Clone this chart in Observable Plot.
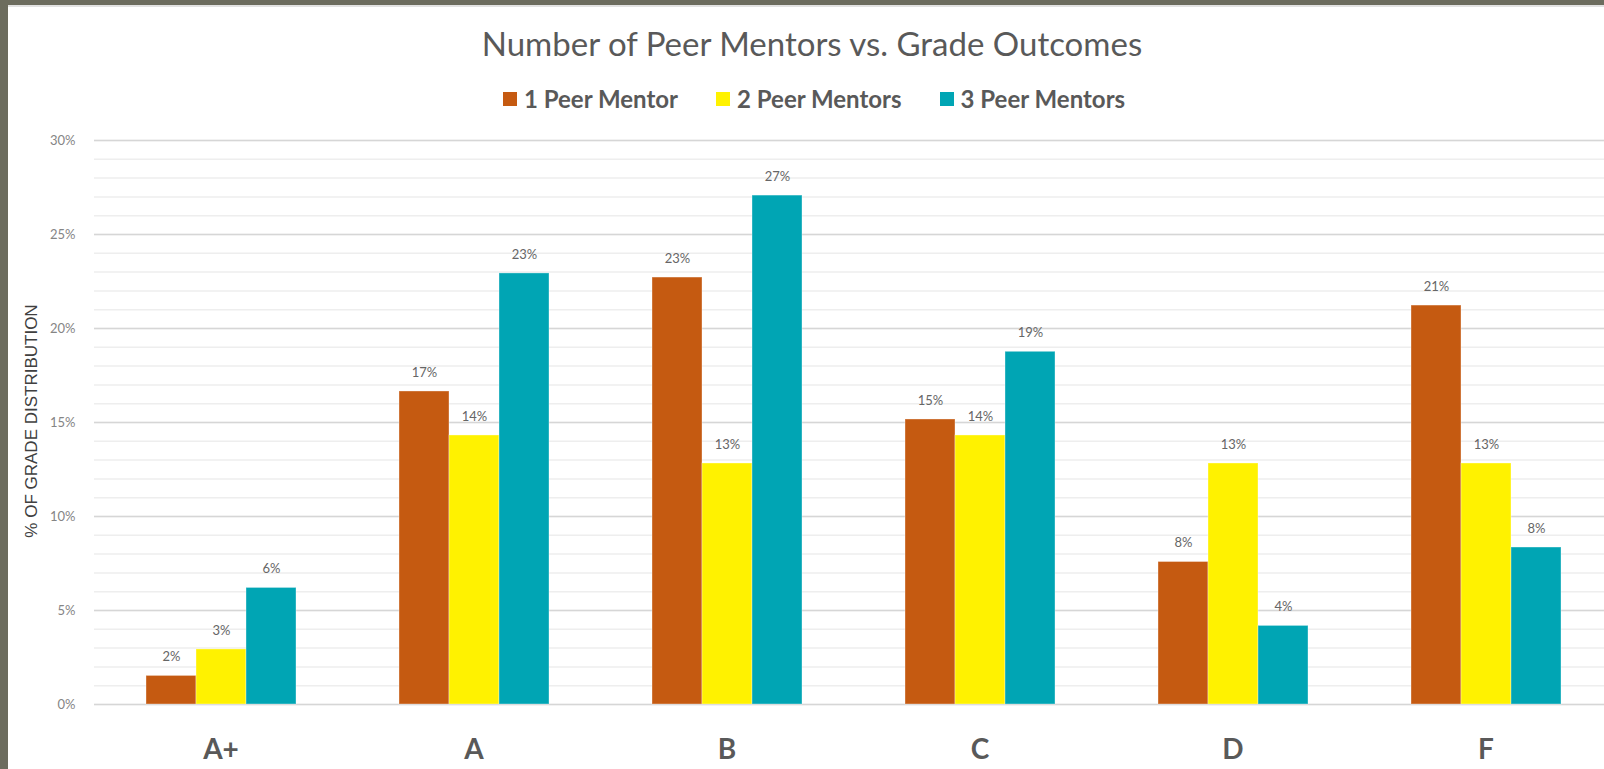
<!DOCTYPE html>
<html>
<head>
<meta charset="utf-8">
<script src="https://cdn.jsdelivr.net/npm/d3@7"></script>
<script src="https://cdn.jsdelivr.net/npm/@observablehq/plot@0.6"></script>
<style>
  html, body { margin: 0; padding: 0; background: #ffffff; overflow: hidden; }
  #wrap { position: relative; width: 1604px; height: 769px; overflow: hidden; background: #fff; }
  #header { position: relative; width: 1604px; height: 121px; }
  #title { position: absolute; left: 0; top: 27px; width: 1624px; text-align: center;
           font-family: Lato, "Open Sans", sans-serif; font-size: 33px; line-height: 33px; color: #595959; white-space: nowrap; }
  #legend { position: absolute; left: 503px; top: 87px; display: flex; align-items: center;
            font-family: Lato, "Open Sans", sans-serif; font-weight: bold; font-size: 24px; line-height: 24px; color: #595959; white-space: nowrap; }
  .item { display: flex; align-items: center; margin-right: 38px; }
  .sw { width: 14px; height: 14px; margin-right: 7px; }
  #ylabel { position: absolute; left: 32px; top: 421px; transform: translate(-50%, -50%) rotate(-90deg);
            font-family: "Liberation Sans", Arial, sans-serif; font-size: 17px; color: #404040; white-space: nowrap; }
  #bl { position: absolute; left: 0; top: 0; width: 8px; height: 769px; background: #6c6c5e; }
  #bt { position: absolute; left: 0; top: 0; width: 1604px; height: 5px; background: #6c6c5e; border-bottom: 2px solid #e2e2e2; }
  #plot svg { display: block; }
</style>
</head>
<body>
<div id="wrap">
  <div id="header">
    <div id="title"></div>
    <div id="legend"></div>
  </div>
  <div id="plot"></div>
  <div id="ylabel"></div>
  <div id="bt"></div>
  <div id="bl"></div>
</div>
<script>
const titleText = "Number of Peer Mentors vs. Grade Outcomes";
const yAxisTitle = "% OF GRADE DISTRIBUTION";
const grades = ["A+", "A", "B", "C", "D", "F"];
const seriesNames = ["1 Peer Mentor", "2 Peer Mentors", "3 Peer Mentors"];
const seriesColors = ["#C55A11", "#FFF200", "#00A5B4"];
const onePeerMentor = [1.52, 16.65, 22.71, 15.16, 7.58, 21.22];
const twoPeerMentors = [2.93, 14.31, 12.82, 14.31, 12.82, 12.82];
const threePeerMentors = [6.20, 22.93, 27.07, 18.76, 4.18, 8.35];
const yMajorTicks = [0, 5, 10, 15, 20, 25, 30];
const yMinorTicks = d3.range(0, 31, 1);

const seriesValues = [onePeerMentor, twoPeerMentors, threePeerMentors];
const data = [];
grades.forEach((g, i) => {
  seriesNames.forEach((s, j) => {
    data.push({grade: g, series: s, value: seriesValues[j][i]});
  });
});

document.getElementById("title").textContent = titleText;
document.getElementById("ylabel").textContent = yAxisTitle;
const legend = document.getElementById("legend");
seriesNames.forEach((s, j) => {
  const it = document.createElement("div");
  it.className = "item";
  const sw = document.createElement("div");
  sw.className = "sw";
  sw.style.background = seriesColors[j];
  const tx = document.createElement("span");
  tx.textContent = s;
  it.appendChild(sw);
  it.appendChild(tx);
  legend.appendChild(it);
});

const chart = Plot.plot({
  width: 1604,
  height: 648,
  marginTop: 19,
  marginBottom: 65,
  marginLeft: 93,
  marginRight: 0,
  style: {background: "transparent", fontFamily: "Lato, 'Open Sans', sans-serif", overflow: "visible"},
  fx: {domain: grades, range: [93, 1613], padding: 0, label: null},
  x: {domain: seriesNames, paddingInner: 0, paddingOuter: 1, axis: null},
  y: {domain: [0, 30], label: null},
  color: {domain: seriesNames, range: seriesColors},
  marks: [
    Plot.gridY(yMinorTicks, {stroke: "#eeeeee", strokeOpacity: 1, strokeWidth: 1.5}),
    Plot.gridY(yMajorTicks, {stroke: "#d6d6d6", strokeOpacity: 1, strokeWidth: 1.6}),
    Plot.axisY(yMajorTicks, {tickSize: 0, tickPadding: 19, tickFormat: d => d + "%", fontSize: 13, fill: "#858585", label: null}),
    Plot.barY(data, {fx: "grade", x: "series", y: "value", fill: "series", stroke: "#ffffff", strokeOpacity: 0.35, strokeWidth: 1}),
    Plot.text(data, {fx: "grade", x: "series", y: "value", text: d => Math.round(d.value) + "%", dy: -19, fontSize: 13, fill: "#666666"}),
    Plot.axisFx({anchor: "bottom", tickSize: 0, tickPadding: 35, fontSize: 28, fontWeight: "bold", fill: "#595959", label: null})
  ]
});
document.getElementById("plot").appendChild(chart);
</script>
</body>
</html>
